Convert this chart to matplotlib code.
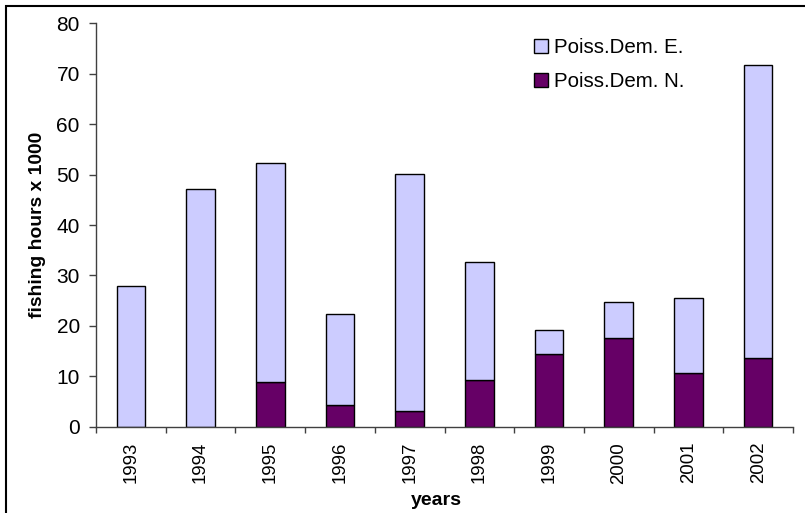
import matplotlib
matplotlib.use("Agg")
import matplotlib.pyplot as plt
from matplotlib.patches import Rectangle
import numpy as np

years = ["1993", "1994", "1995", "1996", "1997", "1998", "1999", "2000", "2001", "2002"]
dem_n = [0.0, 0.0, 8.8, 4.4, 3.2, 9.3, 14.4, 17.6, 10.7, 13.7]
dem_total = [27.9, 47.2, 52.3, 22.4, 50.2, 32.7, 19.1, 24.8, 25.5, 71.8]
dem_e = [t - n for t, n in zip(dem_total, dem_n)]
yticks = [0, 10, 20, 30, 40, 50, 60, 70, 80]

plt.rcParams['font.family'] = ['Liberation Sans', 'DejaVu Sans']

W, H = 805, 513
fig = plt.figure(figsize=(W / 100, H / 100), dpi=100)
ax = fig.add_axes([96 / W, 1 - 426.7 / H, 697 / W, 403.3 / H])

x = np.arange(len(years))
ax.bar(x, dem_n, width=0.41, color='#660066', edgecolor='black', linewidth=1.0,
       label='Poiss.Dem. N.', zorder=2)
ax.bar(x, dem_e, width=0.41, bottom=dem_n, color='#CCCCFF', edgecolor='black',
       linewidth=1.0, label='Poiss.Dem. E.', zorder=2)

ax.set_xlim(-0.5, len(years) - 0.5)
ax.set_ylim(0, 80)
ax.set_yticks(yticks)
ax.set_yticklabels([str(v) for v in yticks], fontsize=15)
ax.set_xticks(x)
ax.set_xticklabels(years, rotation=90, fontsize=13.4)
ax.set_xticks(np.arange(len(years) + 1) - 0.5, minor=True)

for s in ['top', 'right']:
    ax.spines[s].set_visible(False)
for s in ['left', 'bottom']:
    ax.spines[s].set_color('#404040')
    ax.spines[s].set_linewidth(1.0)

ax.tick_params(axis='y', direction='out', length=4.7, width=1.0, color='#404040',
               pad=7)
ax.tick_params(axis='x', which='major', length=0, pad=11)
ax.tick_params(axis='x', which='minor', direction='out', length=4.5, width=1.0,
               color='#404040')

ax.set_ylabel('fishing hours x 1000', fontweight='bold', fontsize=13.9)
ax.yaxis.set_label_coords(-0.0717, 0.5)
ax.set_xlabel('years', fontweight='bold', fontsize=14)
ax.xaxis.set_label_coords(0.488, -0.161)

handles, labels = ax.get_legend_handles_labels()
leg = ax.legend(handles[::-1], labels[::-1], loc='upper left',
                bbox_to_anchor=(0.616, 0.984), frameon=False, fontsize=14.8,
                handlelength=0.7, handleheight=0.7, handletextpad=0.3,
                labelspacing=0.74, borderaxespad=0)

fig.patches.append(Rectangle((6 / W, -0.2), 1.5, 1.2 - 6 / H, transform=fig.transFigure,
                             fill=False, edgecolor='black', linewidth=1.5))

fig.savefig('out.png', dpi=100)
